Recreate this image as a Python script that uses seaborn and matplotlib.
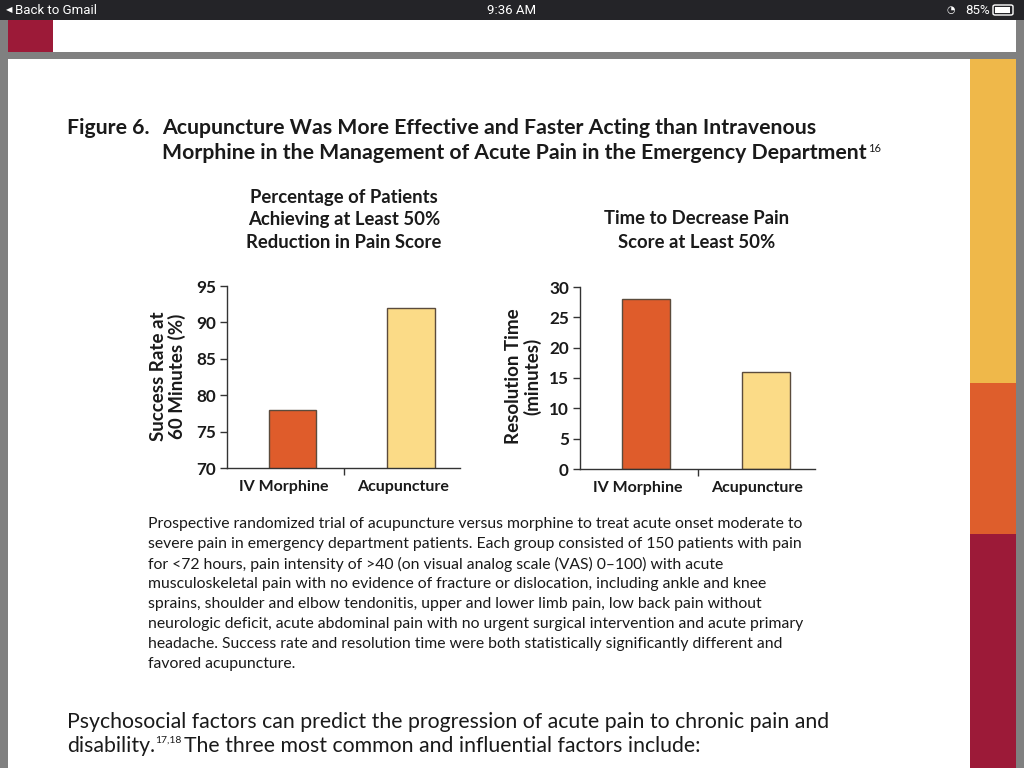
import numpy as np
import pandas as pd
import seaborn as sns
import matplotlib

matplotlib.use('Agg')
import matplotlib.pyplot as plt
from matplotlib.patches import Rectangle, FancyBboxPatch

# datos
grupos = ['IV Morphine', 'Acupuncture']
tasa_exito = [78, 92]          # % a 60 minutos
tiempo_resolucion = [28, 16]   # minutos

titulo_1 = 'Acupuncture Was More Effective and Faster Acting than Intravenous'
titulo_2 = 'Morphine in the Management of Acute Pain in the Emergency Department'
subtitulo_izq = ['Percentage of Patients', 'Achieving at Least 50%', 'Reduction in Pain Score']
subtitulo_der = ['Time to Decrease Pain', 'Score at Least 50%']
pie = [
    'Prospective randomized trial of acupuncture versus morphine to treat acute onset moderate to',
    'severe pain in emergency department patients. Each group consisted of 150 patients with pain',
    'for <72 hours, pain intensity of >40 (on visual analog scale (VAS) 0\u2013100) with acute',
    'musculoskeletal pain with no evidence of fracture or dislocation, including ankle and knee',
    'sprains, shoulder and elbow tendonitis, upper and lower limb pain, low back pain without',
    'neurologic deficit, acute abdominal pain with no urgent surgical intervention and acute primary',
    'headache. Success rate and resolution time were both statistically significantly different and',
    'favored acupuncture.',
]
parrafo_1 = 'Psychosocial factors can predict the progression of acute pain to chronic pain and'
parrafo_2 = 'disability.'
parrafo_3 = 'The three most common and influential factors include:'

sns.set_theme(style='white')
plt.rcParams['font.family'] = ['Lato', 'DejaVu Sans']

naranja = '#DF5C2B'
amarillo = '#FBDB87'
borde = '#5B4B3C'
texto = '#1a1a1a'
colores = {'IV Morphine': naranja, 'Acupuncture': amarillo}

W, H = 1024, 768
fig = plt.figure(figsize=(W / 100, H / 100), dpi=100)
fig.patch.set_facecolor('#808080')
renderer = fig.canvas.get_renderer()


def fx(x):
    return x / W


def fy(y):
    return 1 - y / H


def caja(x0, y0, x1, y1, color):
    fig.patches.append(Rectangle((fx(x0), fy(y1)), fx(x1) - fx(x0), fy(y0) - fy(y1),
                                 transform=fig.transFigure, facecolor=color,
                                 edgecolor='none', zorder=-2))


def fin_x(t):
    # borde derecho de un texto, en pixeles
    return t.get_window_extent(renderer).x1


# fondo tipo captura de pantalla del iPad
caja(0, 0, 1024, 20, '#242428')
caja(8, 20, 1016, 52, 'white')
caja(8, 20, 53, 52, '#9C1A38')
caja(8, 59, 1016, 768, 'white')
caja(970, 59, 1016, 383, '#EFB84A')
caja(970, 383, 1016, 534, '#DE5E2C')
caja(970, 534, 1016, 768, '#9C1A38')

fig.text(fx(6), fy(10), '\u25C0', color='white', fontsize=6, va='center', ha='left',
         family=['DejaVu Sans'])
fig.text(fx(15), fy(10), 'Back to Gmail', color='white', fontsize=9.5, va='center',
         ha='left', family=['Roboto'])
fig.text(fx(512), fy(10), '9:36 AM', color='white', fontsize=9.5, va='center',
         ha='center', family=['Roboto'])
fig.text(fx(990), fy(10), '85%', color='white', fontsize=9.5, va='center',
         ha='right', family=['Roboto'])
fig.patches.append(FancyBboxPatch((fx(993), fy(15)), fx(20), fy(5) - fy(15),
                                  boxstyle='round,pad=0,rounding_size=0.002',
                                  transform=fig.transFigure, facecolor='none',
                                  edgecolor='white', linewidth=1, zorder=-1))
caja(995, 7, 1010, 13, 'white')
fig.text(fx(951), fy(10), '\u25D4', color='white', fontsize=7, va='center',
         ha='center', family=['DejaVu Sans'])

# titulos
fig.text(fx(67), fy(128), 'Figure 6.', fontsize=15.3, fontweight='bold',
         color=texto, va='center')
fig.text(fx(162), fy(128), titulo_1, fontsize=15.3, fontweight='bold',
         color=texto, va='center')
t2 = fig.text(fx(162), fy(153), titulo_2, fontsize=15.3, fontweight='bold',
              color=texto, va='center')
fig.text(fin_x(t2) / W + fx(1), fy(148), '16', fontsize=8, color=texto, va='center')

for i, linea in enumerate(subtitulo_izq):
    fig.text(fx(344), fy(197 + 23 * i), linea, fontsize=13.3, fontweight='bold',
             color=texto, ha='center', va='center')
for i, linea in enumerate(subtitulo_der):
    fig.text(fx(697), fy(219 + 23 * i), linea, fontsize=13.3, fontweight='bold',
             color=texto, ha='center', va='center')

# graficas
df_exito = pd.DataFrame({'Grupo': grupos, 'Valor': tasa_exito})
df_tiempo = pd.DataFrame({'Grupo': grupos, 'Valor': tiempo_resolucion})

ax1 = fig.add_axes([fx(227), fy(468), fx(460) - fx(227), fy(286) - fy(468)])
ax2 = fig.add_axes([fx(580), fy(469), fx(815) - fx(580), fy(287) - fy(469)])

configs = [
    (ax1, df_exito, (70, 95), np.arange(70, 96, 5)),
    (ax2, df_tiempo, (0, 30), np.arange(0, 31, 5)),
]

for ax, datos, ylim, yticks in configs:
    ax.set_facecolor('none')
    sns.barplot(data=datos, x='Grupo', y='Valor', hue='Grupo', palette=colores,
                saturation=1, width=0.4, edgecolor=borde, linewidth=1,
                legend=False, ax=ax)
    ax.set_ylim(*ylim)
    ax.set_xlim(-0.55, 1.41)
    ax.set_yticks(yticks)
    ax.set_yticklabels([str(v) for v in yticks], fontsize=12.3, fontweight='bold',
                       color=texto)
    ax.set_xticks([0.43])
    ax.set_xticklabels([''])
    ax.tick_params(axis='both', direction='out', length=5, width=1, color='#333333',
                   left=True, bottom=True, pad=3)
    for i, g in enumerate(grupos):
        ax.text(i - 0.07, -0.105, g, transform=ax.get_xaxis_transform(), ha='center',
                va='center', fontsize=11.5, fontweight='bold', color=texto)
    sns.despine(ax=ax)
    for lado in ['left', 'bottom']:
        ax.spines[lado].set_color('#333333')
        ax.spines[lado].set_linewidth(1)
    ax.set_xlabel('')
    ax.set_ylabel('')

fig.text(fx(168), fy(376), 'Success Rate at\n60 Minutes (%)', rotation=90,
         fontsize=13.5, fontweight='bold', color=texto, ha='center',
         va='center', linespacing=1.1)
fig.text(fx(523), fy(376), 'Resolution Time\n(minutes)', rotation=90,
         fontsize=13.5, fontweight='bold', color=texto, ha='center',
         va='center', linespacing=1.1)

# pie de figura
for i, linea in enumerate(pie):
    fig.text(fx(148), fy(524 + 20 * i), linea, fontsize=11.3, color=texto,
             va='center')

# parrafo inferior
fig.text(fx(67), fy(722), parrafo_1, fontsize=15.3, color=texto, va='center')
p2 = fig.text(fx(67), fy(746), parrafo_2, fontsize=15.3, color=texto, va='center')
sup = fig.text(fin_x(p2) / W, fy(740), '17,18', fontsize=7.5, color=texto,
               va='center')
fig.text(fin_x(sup) / W + fx(3), fy(746), parrafo_3, fontsize=15.3, color=texto,
         va='center')

fig.savefig('out.png', dpi=100)
